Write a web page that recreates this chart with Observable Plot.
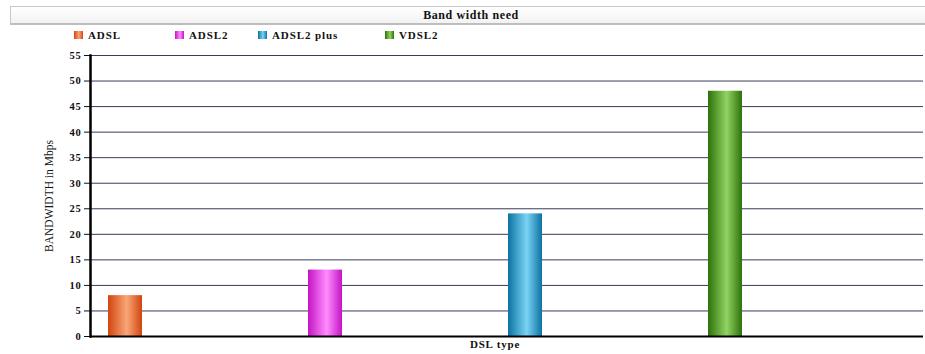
<!DOCTYPE html>
<html>
<head>
<meta charset="utf-8">
<script src="https://cdn.jsdelivr.net/npm/d3@7"></script>
<script src="https://cdn.jsdelivr.net/npm/@observablehq/plot@0.6"></script>
<style>
  html, body { margin: 0; padding: 0; background: #fff; }
  #wrap { position: relative; width: 925px; height: 354px; font-family: "Liberation Serif", "Times New Roman", serif; }
  #title { position: absolute; left: 10px; top: 6px; width: 920px; height: 16px; border: 1px solid #c8c8c8;
           border-bottom: 2px solid #bdbdbd;
           background: linear-gradient(#ffffff, #f2f2f2); text-align: center; font-weight: bold; font-size: 12px;
           line-height: 16px; letter-spacing: 0.6px; color: #111; box-sizing: content-box; }
  .leg { position: absolute; top: 29px; font-weight: bold; font-size: 11px; letter-spacing: 0.9px; color: #111; line-height: 12px; }
  .sw { display: inline-block; width: 9px; height: 8px; margin-right: 5px; vertical-align: 0px; }
  #chart { position: absolute; left: 0; top: 45px; }
  #chart svg text { font-family: "Liberation Serif", "Times New Roman", serif; }
  #chart g[aria-label="y-axis tick label"] text { font-weight: bold; font-size: 10.5px; letter-spacing: 0.8px; }
  #chart g[aria-label="y-axis label"] text { font-size: 11.5px; }
</style>
</head>
<body>
<div id="wrap">
  <div id="title"></div>
  <div id="legend"></div>
  <div id="chart"></div>
</div>
<script>
const titleText = "Band width need";
const categories = ["ADSL", "ADSL2", "ADSL2 plus", "VDSL2"];
const values = [8, 13, 24, 48];
const yTicks = [0, 5, 10, 15, 20, 25, 30, 35, 40, 45, 50, 55];
const yLabel = "BANDWIDTH in Mbps";
const xLabel = "DSL type";
// gradient stops per series: [edge, center]
const edgeColors = ["#d2450f", "#c414c4", "#0b72a3", "#2c720a"];
const midColors  = ["#f9a677", "#ff8cff", "#7ad4f4", "#93d363"];
const legendLeft = [74, 175, 258, 385];

document.getElementById("title").textContent = titleText;

const legend = document.getElementById("legend");
categories.forEach((c, i) => {
  const d = document.createElement("div");
  d.className = "leg";
  d.style.left = legendLeft[i] + "px";
  const s = document.createElement("span");
  s.className = "sw";
  s.style.background = `linear-gradient(to right, ${edgeColors[i]}, ${midColors[i]} 55%, ${edgeColors[i]})`;
  d.appendChild(s);
  d.appendChild(document.createTextNode(c));
  legend.appendChild(d);
});

const data = categories.map((c, i) => ({type: c, value: values[i], grad: `url(#bargrad${i})`}));

const svg = Plot.plot({
  width: 925,
  height: 309,
  marginTop: 10,
  marginBottom: 18,
  marginLeft: 90,
  marginRight: 2,
  style: {background: "#fff", color: "#111"},
  x: {type: "band", domain: categories, range: [25, 825], padding: 0, axis: null},
  y: {domain: [0, 55], ticks: yTicks},
  marks: [
    Plot.gridY(yTicks.filter(t => t > 0), {stroke: "#3a3a5a", strokeOpacity: 1, strokeWidth: 1}),
    Plot.barY(data, {x: "type", y: "value", fill: "grad", insetLeft: 83, insetRight: 83}),
    Plot.axisY(yTicks, {
      tickSize: 6, tickPadding: 3, stroke: "#111",
      label: yLabel, labelAnchor: "center", labelArrow: "none", labelOffset: 46
    }),
    Plot.ruleY([0], {stroke: "#000", strokeWidth: 2}),
    Plot.frame({anchor: "left", stroke: "#000", strokeWidth: 2.5}),
    Plot.text([xLabel], {frameAnchor: "bottom", dy: 11, dx: -12, fontWeight: "bold", fontSize: 11, fill: "#111"})
  ]
});

const defs = d3.select(svg).insert("defs", ":first-child");
edgeColors.forEach((e, i) => {
  const g = defs.append("linearGradient").attr("id", `bargrad${i}`).attr("x1", "0").attr("x2", "1").attr("y1", "0").attr("y2", "0");
  g.append("stop").attr("offset", "0%").attr("stop-color", e);
  g.append("stop").attr("offset", "55%").attr("stop-color", midColors[i]);
  g.append("stop").attr("offset", "100%").attr("stop-color", e);
});
d3.select(svg).selectAll('g[aria-label="text"] text').style("letter-spacing", "0.8px");

document.getElementById("chart").appendChild(svg);
</script>
</body>
</html>
